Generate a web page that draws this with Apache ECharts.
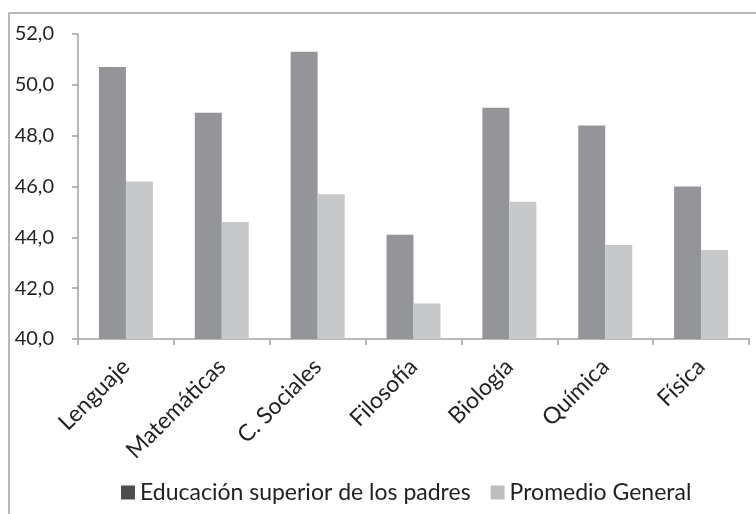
<!DOCTYPE html>
<html>
<head>
<meta charset="utf-8">
<script src="https://cdn.jsdelivr.net/npm/echarts@6/dist/echarts.min.js"></script>
<style>
  html, body { margin: 0; padding: 0; background: #fff; }
  #chart { width: 756px; height: 514px; }
</style>
</head>
<body>
<div id="chart"></div>
<script>
// materias
var categories = ["Lenguaje", "Matemáticas", "C. Sociales", "Filosofía", "Biología", "Química", "Física"];
var seriesNames = ["Educación superior de los padres", "Promedio General"];
var padres = [50.7, 48.9, 51.3, 44.1, 49.1, 48.4, 46.0];
var promedio = [46.2, 44.6, 45.7, 41.4, 45.4, 43.7, 43.5];
var yTicks = [40, 42, 44, 46, 48, 50, 52];

var font = "Lato";
var textColor = "#231f20";
var axisGray = "#a3a3a3";

var myChart = echarts.init(document.getElementById("chart"));
myChart.setOption({
  animation: false,
  textStyle: { fontFamily: font },
  graphic: [
    {
      type: "rect",
      shape: { x: 9, y: 13, width: 800, height: 600 },
      style: { fill: "none", stroke: axisGray, lineWidth: 1.5 },
      silent: true
    }
  ],
  grid: { left: 78, right: 7, top: 34, bottom: 175 },
  legend: {
    left: 116,
    top: 476,
    itemWidth: 14,
    itemHeight: 14,
    itemGap: 20,
    icon: "rect",
    textStyle: { fontFamily: font, fontSize: 23, color: textColor },
    data: [
      { name: seriesNames[0], itemStyle: { color: "#4d4d4f" } },
      { name: seriesNames[1], itemStyle: { color: "#bcbec0" } }
    ]
  },
  xAxis: {
    type: "category",
    data: categories,
    axisLine: { lineStyle: { color: axisGray, width: 1.5 } },
    axisTick: { show: true, length: 6, lineStyle: { color: axisGray, width: 1.5 } },
    axisLabel: { rotate: 45, margin: 24, fontSize: 23, color: textColor, fontFamily: font }
  },
  yAxis: {
    type: "value",
    min: yTicks[0],
    max: yTicks[yTicks.length - 1],
    interval: 2,
    axisLine: { show: true, lineStyle: { color: axisGray, width: 1.5 } },
    axisTick: { show: true, length: 6, lineStyle: { color: axisGray, width: 1.5 } },
    splitLine: { show: false },
    axisLabel: {
      margin: 24,
      fontSize: 20,
      color: textColor,
      fontFamily: font,
      formatter: function (v) { return v.toFixed(1).replace(".", ","); }
    }
  },
  series: [
    {
      name: seriesNames[0],
      type: "bar",
      barWidth: 27,
      barGap: "0%",
      itemStyle: { color: "#939598" },
      data: padres
    },
    {
      name: seriesNames[1],
      type: "bar",
      barWidth: 27,
      barGap: "0%",
      itemStyle: { color: "#c7c8ca" },
      data: promedio
    }
  ]
});
</script>
</body>
</html>
